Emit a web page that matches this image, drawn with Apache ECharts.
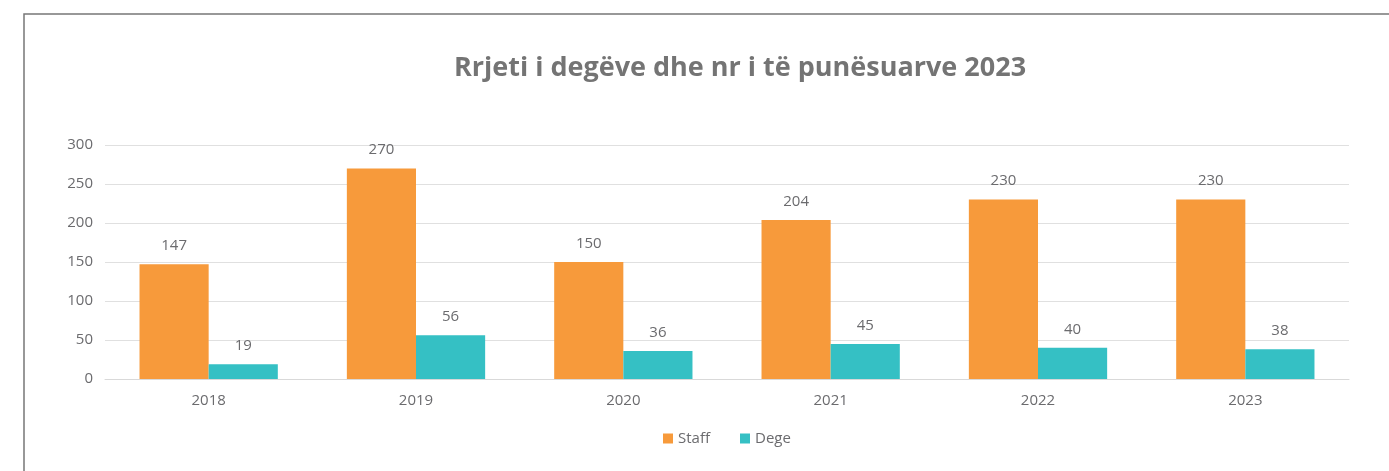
<!DOCTYPE html>
<html>
<head>
<meta charset="utf-8">
<title>Rrjeti i degëve</title>
<script src="https://cdn.jsdelivr.net/npm/echarts@6/dist/echarts.min.js"></script>
<style>
html, body { margin: 0; padding: 0; background: #fff; }
#chart { width: 1389px; height: 471px; }
</style>
</head>
<body>
<div id="chart"></div>
<script>
var years = ['2018', '2019', '2020', '2021', '2022', '2023'];
var staff = [147, 270, 150, 204, 230, 230];
var dege = [19, 56, 36, 45, 40, 38];

var textColor = '#6b6b6e';
var chart = echarts.init(document.getElementById('chart'));
chart.setOption({
	textStyle: { fontFamily: 'Open Sans' },
	title: {
		text: 'Rrjeti i degëve dhe nr i të punësuarve 2023',
		left: 735,
		top: 50,
		textAlign: 'center',
		textStyle: { color: '#747474', fontSize: 27, fontWeight: 'bold', fontFamily: 'Open Sans' }
	},
	graphic: [{
		type: 'rect',
		shape: { x: 24, y: 14, width: 1420, height: 500 },
		style: { fill: 'none', stroke: '#777', lineWidth: 1.5 },
		silent: true
	}],
	legend: {
		bottom: 20,
		left: 658,
		itemWidth: 10,
		itemHeight: 10,
		itemGap: 30,
		icon: 'rect',
		textStyle: { color: textColor, fontSize: 15 },
		data: ['Staff', 'Dege']
	},
	grid: { left: 105, right: 40, top: 145, bottom: 92 },
	xAxis: {
		type: 'category',
		data: years,
		axisLine: { lineStyle: { color: '#d9d9d9' } },
		axisTick: { show: false },
		axisLabel: { color: textColor, fontSize: 15, margin: 14 }
	},
	yAxis: {
		type: 'value',
		min: 0,
		max: 300,
		interval: 50,
		axisLine: { show: false },
		axisTick: { show: false },
		axisLabel: { color: textColor, fontSize: 15, margin: 12 },
		splitLine: { lineStyle: { color: '#e0e0e0' } }
	},
	series: [{
		name: 'Staff',
		type: 'bar',
		data: staff,
		barGap: '0%',
		barCategoryGap: '33.3%',
		itemStyle: { color: '#f79a3b' },
		label: { show: true, position: 'top', distance: 11, color: textColor, fontSize: 15 }
	}, {
		name: 'Dege',
		type: 'bar',
		data: dege,
		itemStyle: { color: '#35c0c4' },
		label: { show: true, position: 'top', distance: 11, color: textColor, fontSize: 15 }
	}]
});
</script>
</body>
</html>
